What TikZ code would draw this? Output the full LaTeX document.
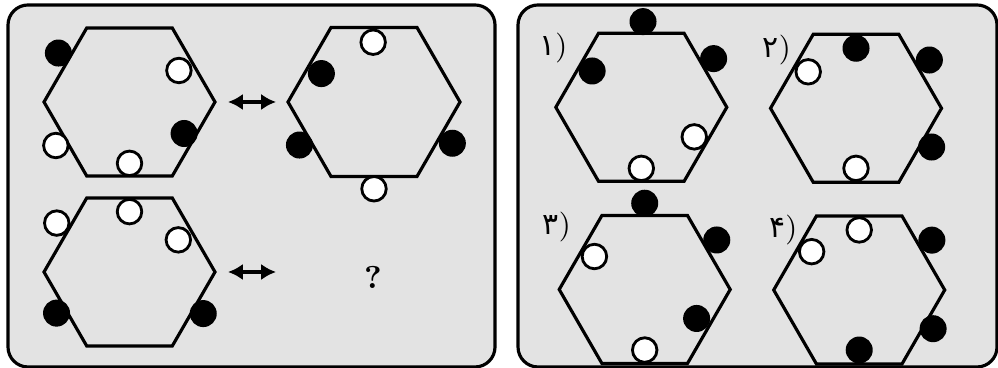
\documentclass[tikz,border=0pt]{standalone}
\usepackage{fontspec}
\newfontfamily\farsifont[Script=Arabic]{DejaVu Sans}
\usepackage{tikz}
\usetikzlibrary{arrows.meta,calc,positioning}
\definecolor{panelgray}{gray}{0.89}

% hexagon: name, centre, radius (vertex k at angle k*60)
\newcommand{\hexagon}[3]{%
  \coordinate (#1) at (#2);
  \foreach \k in {0,...,6}
    \coordinate (#1-\k) at ($(#1)+(\k*60:#3)$);
  \draw[hexline] (#1-0) -- (#1-1) -- (#1-2) -- (#1-3) -- (#1-4) -- (#1-5) -- cycle;
}
% bead: style, hexagon, edge k (from vertex k to k+1), position along edge, outward offset
\newcommand{\bead}[5]{%
  \pgfmathtruncatemacro{\nxt}{#3+1}
  \node[#1] (#2-e#3) at ($(#2-#3)!#4!(#2-\nxt)!#5!-90:(#2-\nxt)$) {};
}

\begin{document}
\begin{tikzpicture}[x=0.01cm, y=0.01cm,
    panel/.style={draw=black, line width=0.9pt, fill=panelgray, rounded corners=0.2cm},
    hexline/.style={draw=black, line width=0.9pt, line join=miter},
    bk/.style={circle, fill=black, inner sep=0pt, minimum size=0.27cm},
    wt/.style={circle, draw=black, fill=white, line width=0.8pt, inner sep=0pt, minimum size=0.245cm},
    pairarrow/.style={arrows={Latex[length=4.2pt,width=4.6pt]-Latex[length=4.2pt,width=4.6pt]}, line width=1pt},
    numlabel/.style={inner sep=0pt, font=\fontsize{8.5}{9}\selectfont}]
  \useasboundingbox (0,0) rectangle (998,368);
  % Draw the two panels
  \draw[panel] (8,1) rectangle (495,363);
  \draw[panel] (518,1) rectangle (997,363);

  % Left panel: the given pair
  \hexagon{h1}{129.5,266}{85.5}
  \bead{bk}{h1}{2}{0.42}{1.2mm}
  \bead{wt}{h1}{0}{0.53}{-1.55mm}
  \bead{bk}{h1}{5}{0.5}{-1.1mm}
  \bead{wt}{h1}{3}{0.51}{1.15mm}
  \bead{wt}{h1}{4}{0.5}{-1.27mm}

  \hexagon{h2}{374,266}{86}
  \bead{wt}{h2}{1}{0.51}{-1.47mm}
  \bead{bk}{h2}{2}{0.52}{-1.47mm}
  \bead{bk}{h2}{3}{0.5}{1.16mm}
  \bead{bk}{h2}{5}{0.54}{1.4mm}
  \bead{wt}{h2}{4}{0.5}{1.23mm}

  \hexagon{h3}{129.5,96}{85.5}
  \bead{wt}{h3}{2}{0.43}{1.34mm}
  \bead{wt}{h3}{1}{0.5}{-1.37mm}
  \bead{wt}{h3}{0}{0.54}{-1.57mm}
  \bead{bk}{h3}{3}{0.49}{0.97mm}
  \bead{bk}{h3}{5}{0.51}{1.06mm}

  % The missing one
  \coordinate (slot) at (288,96);
  \node[font=\fontsize{9}{9}\selectfont\bfseries] (ask) at (373,91) {?};

  % Arrows
  \draw[pairarrow, shorten <=0.13cm, shorten >=0.12cm] (h1-0) -- (h2-3);
  \draw[pairarrow, shorten <=0.13cm, shorten >=0.12cm] (h3-0) -- (slot);

  % Right panel: the four choices
  \hexagon{hA}{641.3,260.7}{85.5}
  \bead{bk}{hA}{1}{0.48}{1.16mm}
  \bead{bk}{hA}{2}{0.42}{-1.33mm}
  \bead{bk}{hA}{0}{0.57}{1.29mm}
  \bead{wt}{hA}{5}{0.51}{-1.34mm}
  \bead{wt}{hA}{4}{0.5}{-1.3mm}

  \hexagon{hB}{856,259.7}{85.5}
  \bead{bk}{hB}{1}{0.5}{-1.4mm}
  \bead{wt}{hB}{2}{0.41}{-1.44mm}
  \bead{bk}{hB}{0}{0.56}{1.36mm}
  \bead{bk}{hB}{5}{0.55}{1.08mm}
  \bead{wt}{hB}{4}{0.5}{-1.4mm}

  \hexagon{hC}{644.7,78.5}{85.5}
  \bead{bk}{hC}{1}{0.5}{1.22mm}
  \bead{wt}{hC}{2}{0.46}{-1.4mm}
  \bead{bk}{hC}{0}{0.58}{1.31mm}
  \bead{bk}{hC}{5}{0.51}{-1.46mm}
  \bead{wt}{hC}{4}{0.5}{-1.35mm}

  \hexagon{hD}{859.2,78}{85.5}
  \bead{wt}{hD}{1}{0.5}{-1.4mm}
  \bead{wt}{hD}{2}{0.39}{-1.37mm}
  \bead{bk}{hD}{0}{0.58}{1.38mm}
  \bead{bk}{hD}{5}{0.54}{0.93mm}
  \bead{bk}{hD}{4}{0.5}{-1.4mm}

  % Choice numbers
  \node[numlabel] (labA) at (553.3,319.7) {{\farsifont ۱})};
  \node[numlabel] (labB) at (776.7,318) {{\farsifont ۲})};
  \node[numlabel] (labC) at (556.7,141.3) {{\farsifont ۳})};
  \node[numlabel] (labD) at (783.3,138) {{\farsifont ۴})};
\end{tikzpicture}
\end{document}
